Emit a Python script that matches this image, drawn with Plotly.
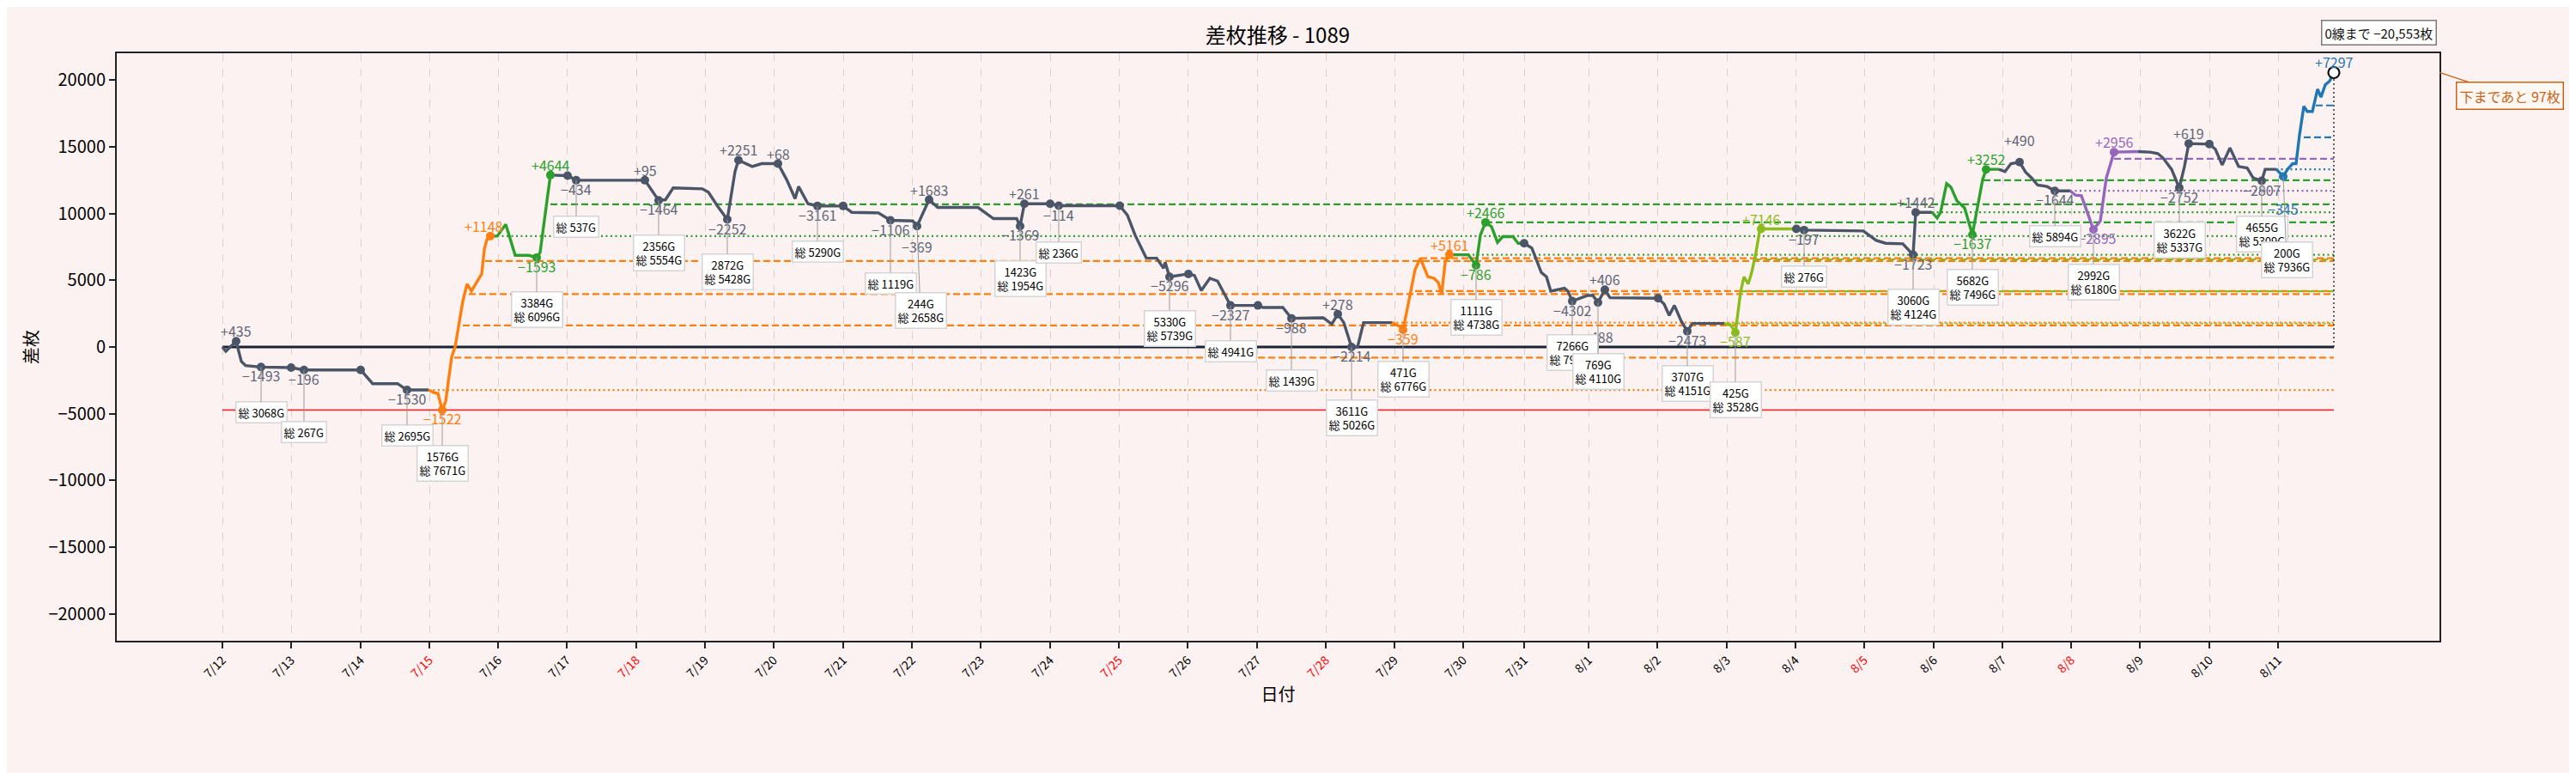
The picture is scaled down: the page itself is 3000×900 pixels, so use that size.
import plotly.graph_objects as go

# ---------------- data ----------------
days = ["7/12", "7/13", "7/14", "7/15", "7/16", "7/17", "7/18", "7/19", "7/20", "7/21",
        "7/22", "7/23", "7/24", "7/25", "7/26", "7/27", "7/28", "7/29", "7/30", "7/31",
        "8/1", "8/2", "8/3", "8/4", "8/5", "8/6", "8/7", "8/8", "8/9", "8/10", "8/11"]
day_pos = [0, 80, 161, 241, 321, 401, 482, 562, 642, 723, 803, 883, 964, 1044, 1124,
           1205, 1285, 1365, 1445, 1516, 1591, 1671, 1752, 1832, 1912, 1993, 2073, 2153,
           2233, 2314, 2394]
red_days = ["7/15", "7/18", "7/25", "7/28", "8/5", "8/8"]

run_color = ["gray", "orange", "green", "gray", "orange", "green", "gray", "yg",
             "gray", "green", "gray", "purple", "gray", "blue"]
run_x = [
    [0, 4, 16, 22, 27, 45, 80, 95, 161, 175, 204, 215, 240],
    [240, 247, 251, 256, 260, 267, 271, 280, 285, 290, 296, 302, 305, 308, 312],
    [312, 320, 330, 341, 357, 366, 370, 382],
    [382, 402, 412, 479, 492, 508, 516, 525, 559, 566, 577, 588, 597, 601, 617, 628, 647,
     657, 667, 671, 682, 693, 723, 733, 764, 778, 798, 804, 809, 823, 833, 880, 898, 925,
     929, 934, 964, 974, 1045, 1054, 1063, 1072, 1076, 1088, 1096, 1098, 1103, 1125, 1132,
     1140, 1150, 1159, 1174, 1206, 1212, 1235, 1245, 1282, 1292, 1299, 1306, 1315, 1322,
     1329, 1362],
    [1362, 1371, 1375, 1383, 1389, 1395, 1404, 1411, 1416, 1420, 1424, 1429],
    [1429, 1451, 1460, 1465, 1471, 1478, 1485, 1491, 1503, 1509, 1516],
    [1516, 1525, 1536, 1542, 1547, 1563, 1567, 1572, 1590, 1596, 1602, 1610, 1616, 1672,
     1679, 1685, 1691, 1699, 1706, 1712, 1749],
    [1749, 1757, 1762, 1768, 1772, 1777, 1781, 1786, 1790, 1792, 1833],
    [1833, 1842, 1911, 1920, 1926, 1937, 1957, 1969, 1972, 1991],
    [1991, 1997, 2001, 2008, 2013, 2020, 2029, 2038, 2050, 2054, 2069],
    [2069, 2076, 2083, 2093, 2100, 2107, 2114, 2125, 2134, 2152],
    [2152, 2158, 2165, 2179, 2187, 2194, 2203, 2231],
    [2231, 2245, 2254, 2260, 2270, 2279, 2285, 2290, 2314, 2321, 2329, 2338, 2348, 2358,
     2365, 2375, 2379, 2392],
    [2392, 2397, 2400, 2405, 2411, 2415, 2419, 2424, 2428, 2434, 2440, 2444, 2449, 2454, 2459],
]
run_y = [
    [0, -322, 429, -1073, -1395, -1502, -1545, -1717, -1717, -2747, -2747, -3219, -3219],
    [-3219, -3431, -3474, -4718, -4075, -749, 0, 3434, 4721, 4185, 4829, 5472, 7296, 8048, 8305],
    [8305, 8305, 9185, 6867, 6867, 6696, 7082, 12876],
    [12876, 12833, 12490, 12490, 12490, 10988, 11030, 11910, 11846, 11588, 10515, 9550, 13134,
     13992, 13520, 13734, 13734, 12554, 11116, 12018, 10730, 10558, 10558, 10086, 10043, 9485,
     9485, 9442, 9056, 11030, 10451, 10451, 9614, 9614, 9056, 10730, 10730, 10580, 10580, 9872,
     8369, 7189, 6652, 6652, 5901, 6331, 5258, 5472, 5365, 4228, 5150, 4936, 3112, 3112, 2961,
     2961, 2146, 2189, 1717, 2468, 1824, 0, 0, 1824, 1824],
    [1824, 1545, 1288, 3863, 5794, 6652, 5258, 5150, 4829, 3970, 6331, 6910],
    [6910, 6910, 6116, 8369, 9335, 9013, 7833, 8262, 8262, 7769, 7769],
    [7769, 7404, 5580, 5258, 4185, 4399, 4185, 3434, 3863, 3863, 3326, 4292, 3691, 3648, 3219,
     2361, 3112, 1931, 1180, 1760, 1760],
    [1760, 1610, 1073, 4077, 5258, 4721, 5580, 7082, 8584, 8842, 8842],
    [8842, 8756, 8691, 8262, 7983, 7769, 7726, 6910, 10086, 10086],
    [10086, 9657, 10086, 12232, 11975, 10945, 10408, 8412, 12554, 13305, 13305],
    [13305, 13134, 13734, 13842, 13091, 12661, 12125, 12018, 11696, 11696],
    [11696, 11374, 11331, 8799, 9442, 12661, 14593, 14636],
    [14636, 14593, 14486, 14164, 13305, 11910, 13520, 15237, 15193, 14807, 13627, 14915, 13520,
     13413, 12661, 12447, 13305, 13305],
    [13305, 12983, 12769, 13305, 13734, 13734, 15880, 18026, 17640, 17640, 19314, 18713, 19636,
     19915, 20553],
]

mk_x = [16, 45, 80, 95, 161, 215, 256, 312, 366, 382, 402, 412, 492, 508, 588, 601, 647, 693,
        723, 778, 809, 823, 929, 934, 964, 974, 1045, 1103, 1125, 1174, 1206, 1245, 1299, 1315,
        1375, 1429, 1460, 1471, 1516, 1572, 1602, 1610, 1672, 1706, 1762, 1792, 1833, 1842,
        1969, 1972, 2038, 2054, 2093, 2134, 2179, 2203, 2279, 2290, 2314, 2375, 2400]
mk_y = [429, -1502, -1545, -1717, -1717, -3219, -4718, 8305, 6696, 12876, 12833, 12490, 12490,
        10988, 9550, 13992, 13734, 10558, 10558, 9485, 9056, 11030, 9056, 10730, 10730, 10580,
        10580, 5258, 5472, 3112, 3112, 2146, 2468, 0, 1288, 6910, 6116, 9335, 7769, 3434, 3326,
        4292, 3648, 1180, 1073, 8842, 8842, 8756, 6910, 10086, 8412, 13305, 13842, 11696, 8799,
        14593, 11910, 15237, 15193, 12447, 12769]
mk_label = ["+435", "-1493", "", "-196", "", "-1530", "-1522", "+1148", "-1593", "+4644", "",
            "-434", "+95", "-1464", "-2252", "+2251", "+68", "-3161", "", "-1106", "-369",
            "+1683", "-1369", "+261", "", "-114", "", "-5296", "", "-2327", "", "-988", "+278",
            "-2214", "-359", "+5161", "-786", "+2466", "", "-4302", "-488", "+406", "", "-2473",
            "-587", "+7146", "", "-197", "-1723", "+1442", "-1637", "+3252", "+490", "-1644",
            "-2895", "+2956", "-2752", "+619", "", "-2807", "-345"]
mk_color = (["gray"] * 6 + ["orange", "orange", "green", "green"] + ["gray"] * 24
            + ["orange", "orange", "green", "green"] + ["gray"] * 6 + ["yg", "yg"]
            + ["gray"] * 4 + ["green", "green"] + ["gray"] * 2 + ["purple", "purple"]
            + ["gray"] * 4 + ["blue"])

final_x = 2459
final_y = 20553
final_label = "+7297"

box_x = [45, 95, 215, 256, 366, 412, 508, 588, 693, 778, 809, 929, 974, 1103, 1174, 1245,
         1315, 1375, 1460, 1572, 1602, 1706, 1762, 1842, 1969, 2038, 2134, 2179, 2279, 2375, 2400]
box_y = [-1502, -1717, -3219, -4718, 6696, 12490, 10988, 9550, 10558, 9485, 9056, 9056, 10580,
         5258, 3112, 2146, 0, 1288, 6116, 3434, 3326, 1180, 1073, 8756, 6910, 8412, 11696, 8799,
         11910, 12447, 12769]
box_text = ["総 3068G", "総 267G", "総 2695G", "1576G<br>総 7671G", "3384G<br>総 6096G",
            "総 537G", "2356G<br>総 5554G", "2872G<br>総 5428G", "総 5290G", "総 1119G",
            "244G<br>総 2658G", "1423G<br>総 1954G", "総 236G", "5330G<br>総 5739G", "総 4941G",
            "総 1439G", "3611G<br>総 5026G", "471G<br>総 6776G", "1111G<br>総 4738G",
            "7266G<br>総 7936G", "769G<br>総 4110G", "3707G<br>総 4151G", "425G<br>総 3528G",
            "総 276G", "3060G<br>総 4124G", "5682G<br>総 7496G", "総 5894G",
            "2992G<br>総 6180G", "3622G<br>総 5337G", "4655G<br>総 5309G", "200G<br>総 7936G"]

ref_y = [-3219, -794, 1610, 3970, 6438, 8305, 10687, 1824, 4185, 6652, 6910, 9335,
         1760, 4174, 6560, 10086, 12490, 11696, 14100, 13305, 15709, 18091]
ref_x0 = [240, 270, 280, 287, 306, 320, 382, 1362, 1389, 1395, 1445, 1471,
          1749, 1768, 1784, 1991, 2051, 2152, 2203, 2392, 2424, 2438]
ref_kind = ["dot", "dash", "dash", "dash", "dash", "dot", "dash", "dot", "dash", "dash", "dot",
            "dash", "dot", "dash", "dash", "dot", "dash", "dot", "dash", "dot", "dash", "dash"]
ref_color = ["orange"] * 5 + ["green"] * 2 + ["orange"] * 3 + ["green"] * 2 + ["yg"] * 3 \
    + ["green"] * 2 + ["purple"] * 2 + ["blue"] * 3

floor_y = -4718
zero_gap = -20553
below_gap = 97

# ---------------- styles ----------------
COL = {"gray": "#4a5568", "orange": "#ff7f0e", "green": "#2ca02c", "yg": "#8cbc1c",
       "purple": "#9467bd", "blue": "#1f77b4"}
TXT = {"gray": "#5d6677", "orange": "#ff7f0e", "green": "#2ca02c", "yg": "#8cbc1c",
       "purple": "#9467bd", "blue": "#1f77b4"}
FONT = "Noto Sans CJK JP"
BG = "#fdf2f2"

fig = go.Figure()

x_end = final_x
for yv, x0, kind, c in zip(ref_y, ref_x0, ref_kind, ref_color):
    fig.add_trace(go.Scatter(
        x=[x0, x_end], y=[yv, yv], mode="lines", hoverinfo="skip",
        line=dict(color=COL[c], width=2.2, dash="8px,4px" if kind == "dash" else "2px,3.5px")))

# floor line and zero line
fig.add_trace(go.Scatter(x=[day_pos[0], x_end], y=[floor_y, floor_y], mode="lines",
                         line=dict(color="rgba(235,40,40,0.95)", width=1.8), hoverinfo="skip"))
fig.add_trace(go.Scatter(x=[day_pos[0], x_end], y=[0, 0], mode="lines",
                         line=dict(color="#1c2333", width=3.2), hoverinfo="skip"))
fig.add_trace(go.Scatter(x=[final_x, final_x], y=[0, final_y], mode="lines",
                         line=dict(color="#333333", width=1.5, dash="2px,3px"), hoverinfo="skip"))

for c, xs, ys in zip(run_color, run_x, run_y):
    fig.add_trace(go.Scatter(x=xs, y=ys, mode="lines", hoverinfo="skip",
                             line=dict(color=COL[c], width=3.4)))

fig.add_trace(go.Scatter(x=mk_x, y=mk_y, mode="markers", hoverinfo="skip",
                         marker=dict(size=10, color=[COL[c] for c in mk_color])))
fig.add_trace(go.Scatter(x=[final_x], y=[final_y], mode="markers", hoverinfo="skip",
                         marker=dict(size=13, color="white", line=dict(color="#111", width=2.2))))

annotations = []
extra_dy = {20: 14, 40: 30, 60: 27, 52: -14}
extra_dx = {7: -8, 54: 4}
labels = list(zip(mk_x, mk_y, mk_label, mk_color)) + [(final_x, final_y, final_label, "blue")]
for i, (x, y, t, c) in enumerate(labels):
    if not t:
        continue
    top = t.startswith("+")
    annotations.append(dict(
        x=x, y=y, text=t.replace("-", "−"), showarrow=False, xanchor="center",
        yanchor="bottom" if top else "top",
        yshift=(-2 if top else 4) - extra_dy.get(i, 0), xshift=extra_dx.get(i, 0),
        font=dict(family=FONT, size=16, color=TXT[c])))

box_dy = [53, 72, 53, 62, 61, 54, 61, 61, 53, 73, 98, 61, 54, 60, 53, 72, 82, 58, 61, 60, 80,
          61, 78, 54, 61, 61, 53, 61, 61, 62, 97]
box_dx = {10: 4, 30: 4}
for i, (x, y, t) in enumerate(zip(box_x, box_y, box_text)):
    annotations.append(dict(
        x=x, y=y, text=t, showarrow=True, arrowhead=0, arrowwidth=1, arrowcolor="#9a9a9a",
        axref="pixel", ayref="pixel", ax=box_dx.get(i, 0), ay=box_dy[i], standoff=0,
        bgcolor="white", bordercolor="#d4d4d4", borderwidth=1.5, borderpad=2,
        font=dict(family=FONT, size=13, color="black")))

annotations.append(dict(
    xref="paper", yref="paper", x=0.974, y=1.0345, xanchor="center", yanchor="middle",
    text=f"0線まで {zero_gap:,}枚".replace("-", "−"),
    showarrow=False, bgcolor="white", bordercolor="#7a7a7a", borderwidth=1.5, borderpad=3,
    font=dict(family=FONT, size=15, color="#111")))
annotations.append(dict(
    xref="paper", yref="y", x=1.0, y=final_y, text=f"下まであと {below_gap}枚",
    showarrow=True, arrowhead=0, arrowwidth=1.3, arrowcolor="#c8641a",
    axref="pixel", ayref="pixel", ax=82, ay=27, standoff=0,
    bgcolor="#fff8f2", bordercolor="#c8641a", borderwidth=1.5, borderpad=3,
    font=dict(family=FONT, size=16, color="#c8641a")))

ticktext = [f'<span style="color:red">{d}</span>' if d in red_days else d for d in days]
yvals = [-20000, -15000, -10000, -5000, 0, 5000, 10000, 15000, 20000]

fig.update_layout(
    width=3000, height=900,
    paper_bgcolor=BG, plot_bgcolor=BG,
    margin=dict(l=128, r=167, t=54, b=162, autoexpand=False),
    showlegend=False,
    font=dict(family=FONT, color="black"),
    title=dict(text="差枚推移 - 1089", x=0.4933, xanchor="center", y=0.963, yanchor="middle",
               font=dict(family=FONT, size=24, color="black")),
    annotations=annotations,
    xaxis=dict(
        range=[-123, 2582], tickmode="array", tickvals=day_pos, ticktext=ticktext,
        tickangle=-45, tickfont=dict(family=FONT, size=14, color="black"),
        showgrid=True, gridcolor="#d6d0d0", griddash="dash", gridwidth=1.3,
        zeroline=False, showline=True, mirror=True, linecolor="#222", linewidth=2,
        ticks="outside", ticklen=7, tickwidth=2, tickcolor="#222", automargin=False,
        title=dict(text="日付", font=dict(family=FONT, size=20), standoff=0)),
    yaxis=dict(
        range=[-22000, 22000], tickmode="array", tickvals=yvals,
        ticktext=[str(v).replace("-", "−") for v in yvals],
        tickfont=dict(family=FONT, size=20, color="black"),
        showgrid=False, zeroline=False, showline=True, mirror=True, linecolor="#222",
        linewidth=2, ticks="outside", ticklen=7, tickwidth=2, tickcolor="#222", automargin=False,
        title=dict(text="差枚", font=dict(family=FONT, size=20), standoff=6)),
)

fig.write_html("out.html")
